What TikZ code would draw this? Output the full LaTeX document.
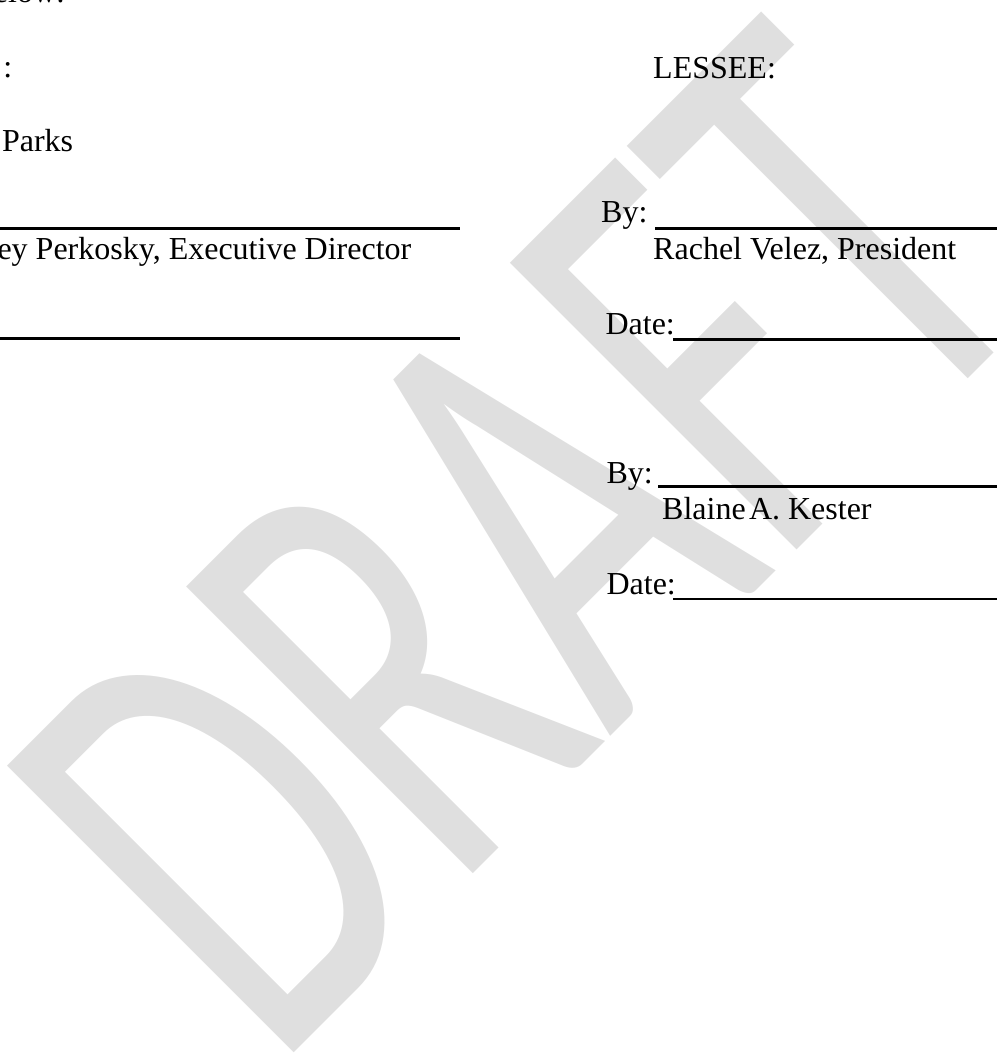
\documentclass[tikz,border=0pt]{standalone}
\usepackage{fontspec}
\setmainfont{Liberation Serif}
\newfontfamily\wmfont{Carlito}
\usetikzlibrary{positioning}
\definecolor{wmgray}{RGB}{223,223,223}
\tikzstyle{txt} = [inner sep=0pt, anchor=base west, font=\fontsize{12}{14}\selectfont]
\tikzstyle{sigline} = [draw, line width=1pt]
\tikzstyle{thinline} = [draw, line width=0.5pt]
\tikzstyle{watermark} = [inner sep=0pt, anchor=base west, rotate=45, text=wmgray]

\begin{document}
\begin{tikzpicture}[x=0.375pt, y=-0.375pt]
    \useasboundingbox (0,0) rectangle (997,1057);
    \clip (0,0) rectangle (997,1057);
        % Watermark
    \node [watermark] (draft) at (274,1073) {\scalebox{1.537}[2.37]{\wmfont\fontsize{100}{100}\selectfont DRAFT}};
        % Left column
    \node [txt] (below) at (-6.6,3) {elow:};
    \node [txt] (colon) at (2.9,78) {:};
    \node [txt] (parks) at (1.5,151.7) {Parks};
    \coordinate (sigLa) at (0,228.3);
    \coordinate (sigLb) at (460,228.3);
    \node [txt] (perk) at (-3,260) {ey Perkosky, Executive Director};
    \coordinate (dateLa) at (0,338.5);
    \coordinate (dateLb) at (460,338.5);
        % Right column
    \node [txt] (lessee) at (652.7,78.3) {LESSEE:};
    \node [txt] (byA) at (600.7,222.7) {By:};
    \coordinate (sigAa) at (655,228.3);
    \coordinate (sigAb) at (997,228.3);
    \node [txt] (rachel) at (652.7,260) {Rachel Velez, President};
    \node [txt] (dateA) at (605,335) {Date:};
    \coordinate (dateAa) at (673.3,339.3);
    \coordinate (dateAb) at (997,339.3);
    \node [txt] (byB) at (606,483.3) {By:};
    \coordinate (sigBa) at (658.3,486.7);
    \coordinate (sigBb) at (997,486.7);
    \node [txt] (blaine) at (661.7,519) {Blaine\kern0.1em A. Kester};
    \node [txt] (dateB) at (606,594) {Date:};
    \coordinate (dateBa) at (673.3,599);
    \coordinate (dateBb) at (997,599);
        % Lines
    \path [sigline] (sigLa) -- (sigLb);
    \path [sigline] (dateLa) -- (dateLb);
    \path [sigline] (sigAa) -- (sigAb);
    \path [sigline] (dateAa) -- (dateAb);
    \path [sigline] (sigBa) -- (sigBb);
    \path [thinline] (dateBa) -- (dateBb);
\end{tikzpicture}
\end{document}
